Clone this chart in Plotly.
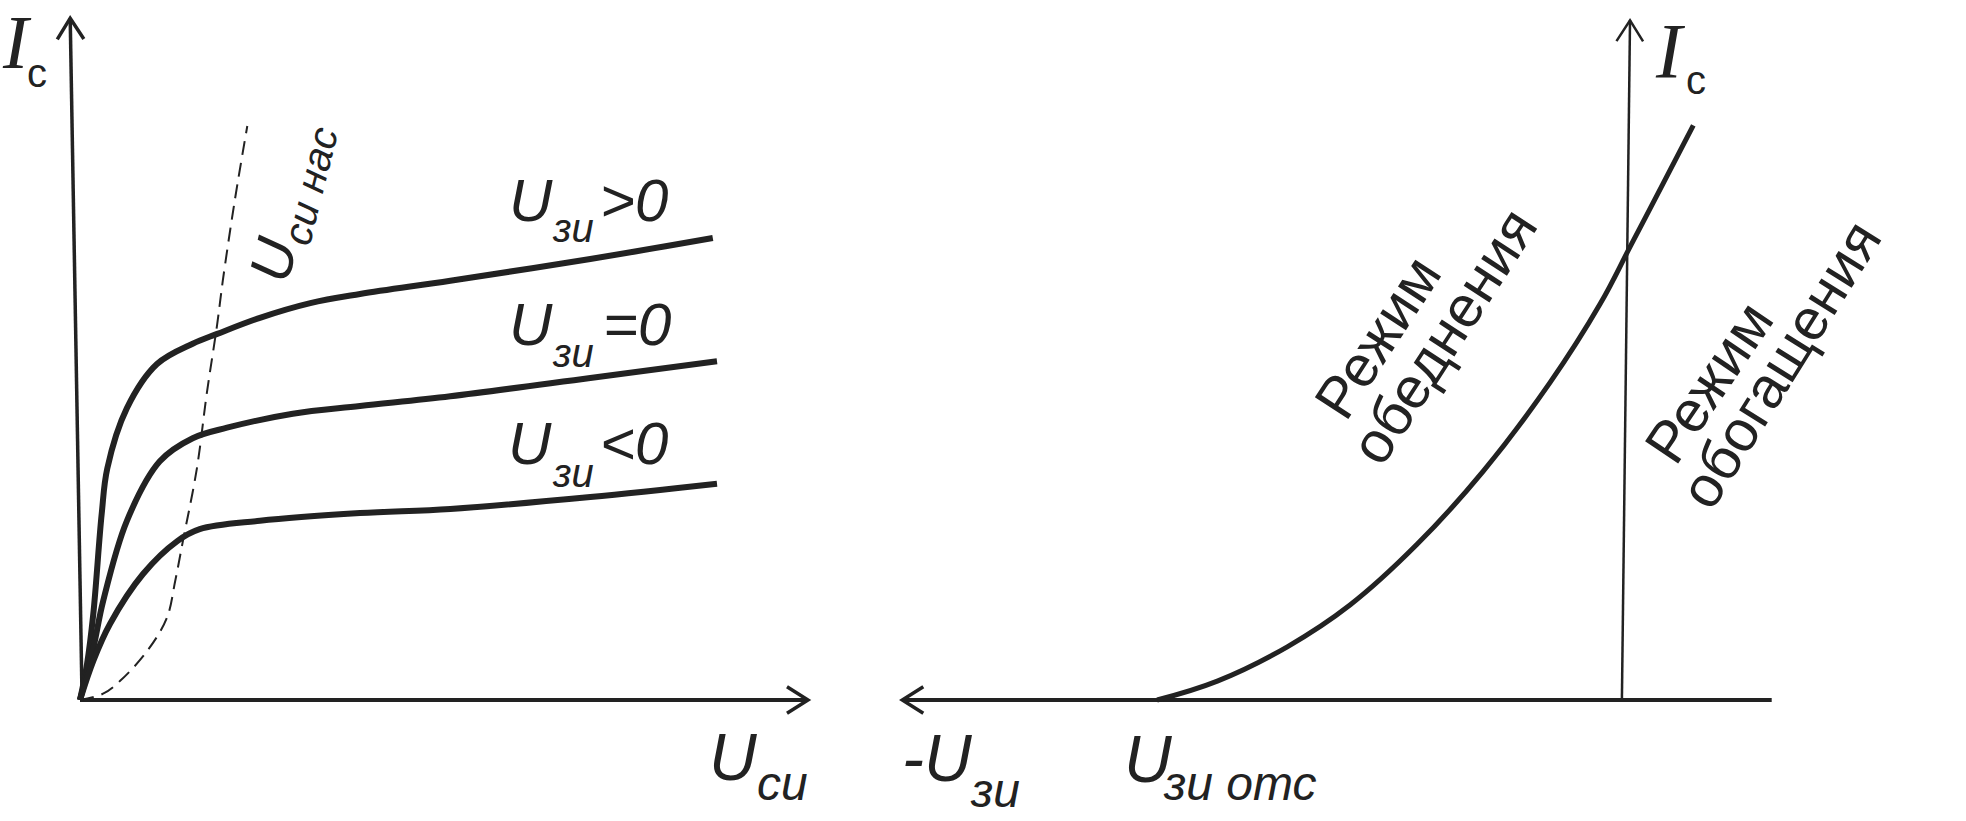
import plotly.graph_objects as go

# ---------------- data (schematic units) ----------------
# Left panel: output characteristics I_c(U_si)
u_si_pos = [0, 0.10, 0.19, 0.31, 0.39, 0.67, 1.10, 1.61, 1.96, 2.57, 3.29, 4.00, 5.29, 7.29, 9.04]
ic_pos   = [0, 0.51, 1.23, 2.66, 3.31, 4.17, 4.80, 5.09, 5.23, 5.46, 5.67, 5.80, 5.99, 6.30, 6.60]

u_si_zero = [0, 0.19, 0.33, 0.67, 1.14, 1.61, 2.10, 3.04, 4.00, 5.29, 7.29, 9.10]
ic_zero   = [0, 0.74, 1.41, 2.56, 3.41, 3.74, 3.89, 4.09, 4.20, 4.34, 4.60, 4.84]

u_si_neg = [0, 0.19, 0.43, 0.90, 1.39, 1.71, 2.57, 4.00, 5.29, 7.29, 9.10]
ic_neg   = [0, 0.56, 1.09, 1.80, 2.27, 2.44, 2.56, 2.67, 2.73, 2.90, 3.09]

u_si_sat = [0, 0.33, 0.57, 0.96, 1.24, 1.36, 1.47, 1.67, 1.81, 1.96, 2.04, 2.21, 2.39]
ic_sat   = [0, 0.09, 0.27, 0.70, 1.17, 1.70, 2.27, 3.31, 4.37, 5.37, 5.99, 7.13, 8.20]

# Right panel: transfer characteristic I_c(U_zi)
u_zi    = [-6.67, -5.81, -4.81, -3.91, -2.96, -2.01, -1.06, -0.34, 0.09, 0.56, 0.99]
ic_tran = [0, 0.27, 0.76, 1.36, 2.22, 3.27, 4.53, 5.66, 6.48, 7.38, 8.21]

# axis lines (start, tip) in data units
left_x_axis  = ([0.0, 10.4], [0.0, 0.0])
left_y_axis  = ([0.03, -0.14], [0.0, 9.74])
right_x_axis = ([2.11, -10.31], [0.0, 0.0])
right_y_axis = ([-0.03, 0.086], [0.0, 9.71])

INK = "#222222"
SANS = "Liberation Sans, Arial, sans-serif"
SERIF = "Liberation Serif, Times New Roman, serif"


def arrow_arms(xs, ys, back=0.30, half=0.19):
    """V-shaped open arrow head at the tip (xs[1], ys[1])."""
    dx, dy = xs[1] - xs[0], ys[1] - ys[0]
    n = (dx * dx + dy * dy) ** 0.5
    ux, uy = dx / n, dy / n
    px, py = -uy, ux
    bx, by = xs[1] - ux * back, ys[1] - uy * back
    return ([bx + px * half, xs[1], bx - px * half],
            [by + py * half, ys[1], by - py * half])


fig = go.Figure()


def line(x, y, xaxis, width, dash=None, shape="linear", smoothing=1.0):
    fig.add_trace(go.Scatter(
        x=x, y=y, xaxis=xaxis, yaxis="y", mode="lines",
        line=dict(color=INK, width=width, dash=dash, shape=shape, smoothing=smoothing),
        hoverinfo="skip", showlegend=False, cliponaxis=False))


# left axes
line(*left_x_axis, "x", 4)
line(*arrow_arms(*left_x_axis), "x", 3.5)
line(*left_y_axis, "x", 3.5)
line(*arrow_arms(*left_y_axis), "x", 3.5)

# left curves
line(u_si_sat, ic_sat, "x", 2, dash="14px,8px", shape="spline")
line(u_si_pos, ic_pos, "x", 6, shape="spline")
line(u_si_zero, ic_zero, "x", 6, shape="spline")
line(u_si_neg, ic_neg, "x", 6, shape="spline")

# right axes
line(*right_x_axis, "x2", 4)
line(*arrow_arms(*right_x_axis), "x2", 3.5)
line(*right_y_axis, "x2", 2.5)
line(*arrow_arms(*right_y_axis), "x2", 2.5)

# right curve
line(u_zi, ic_tran, "x2", 5, shape="spline", smoothing=1.1)

ann = []


def txt(x, y, s, size, ref="x", angle=0, family=SANS, align="center"):
    ann.append(dict(x=x, y=y, xref=ref, yref="y", text=s, showarrow=False,
                    xanchor="center", yanchor="middle", textangle=angle,
                    align=align, font=dict(family=family, size=size, color=INK)))


# left panel labels
txt(-0.90, 9.40, "<i>I</i>", 76, family=SERIF)
txt(-0.61, 8.96, "c", 40)

txt(6.44, 7.14, "<i>U</i>", 60)
txt(7.04, 6.74, "<i>зи</i>", 40)
txt(7.91, 7.14, "<i>&gt;0</i>", 60)

txt(6.44, 5.37, "<i>U</i>", 60)
txt(7.04, 4.96, "<i>зи</i>", 40)
txt(7.96, 5.37, "<i>=0</i>", 60)

txt(6.43, 3.66, "<i>U</i>", 60)
txt(7.04, 3.24, "<i>зи</i>", 40)
txt(7.91, 3.66, "<i>&lt;0</i>", 60)

txt(3.02, 7.10, "<i>U<sub>си нас</sub></i>", 58, angle=-76)

txt(9.33, -0.81, "<i>U</i>", 66)
txt(10.03, -1.19, "<i>си</i>", 48)

# right panel labels
txt(-9.81, -0.83, "<i>-U</i>", 66, ref="x2")
txt(-8.99, -1.29, "<i>зи</i>", 48, ref="x2")
txt(-6.80, -0.84, "<i>U</i>", 66, ref="x2")
txt(-5.49, -1.19, "<i>зи отс</i>", 48, ref="x2")

txt(0.67, 9.28, "<i>I</i>", 78, ref="x2", family=SERIF)
txt(1.03, 8.86, "c", 40, ref="x2")

txt(-3.52, 5.19, "Режим", 58, ref="x2", angle=-57)
txt(-2.58, 5.21, "обеднения", 58, ref="x2", angle=-57)
txt(1.20, 4.54, "Режим", 58, ref="x2", angle=-56)
txt(2.22, 4.80, "обогащения", 58, ref="x2", angle=-58)

fig.update_layout(
    width=1966, height=821,
    margin=dict(l=0, r=0, t=0, b=0),
    paper_bgcolor="white", plot_bgcolor="white",
    showlegend=False,
    xaxis=dict(domain=[0, 860 / 1966], range=[-80 / 70, 780 / 70], visible=False, fixedrange=True),
    xaxis2=dict(domain=[880 / 1966, 1], range=[(880 - 1624) / 70, (1966 - 1624) / 70],
                anchor="y", visible=False, fixedrange=True),
    yaxis=dict(domain=[0, 1], range=[-121 / 70, 700 / 70], visible=False, fixedrange=True),
    annotations=ann,
)

fig.write_html("out.html", config={"displayModeBar": False},
               post_script="document.body.style.margin='0';document.body.style.overflow='hidden';")
